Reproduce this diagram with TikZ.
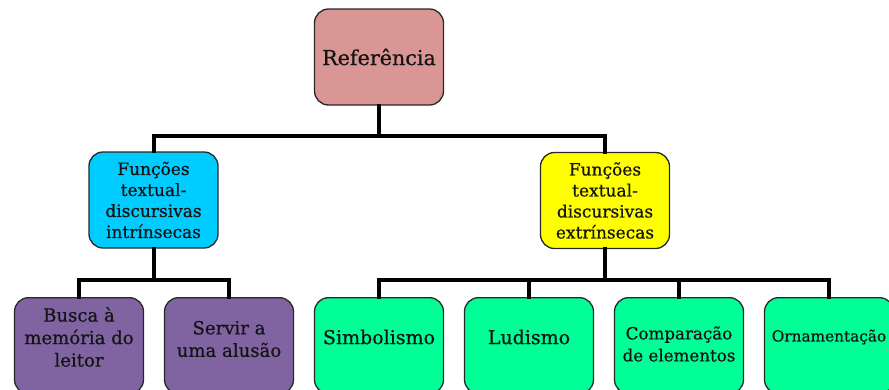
\documentclass[tikz,border=0pt]{standalone}
\usepackage{fontspec}
\setmainfont{DejaVu Serif}
\newfontfamily\boxfont{DejaVu Serif}[FakeBold=0.6]
\definecolor{refpink}{RGB}{217,150,148}
\definecolor{intcyan}{RGB}{0,204,255}
\definecolor{extyellow}{RGB}{255,255,0}
\definecolor{leafpurple}{RGB}{128,100,162}
\definecolor{leafgreen}{RGB}{0,255,150}
\definecolor{boxline}{RGB}{40,40,40}
\begin{document}
\begin{tikzpicture}[x=1pt,y=1pt,yscale=-1,
  box/.style={draw=boxline, line width=1.3pt, rounded corners=14pt, minimum width=129pt, minimum height=96pt, inner sep=0pt},
  boxtext/.style={align=center, text=black!92, inner sep=0pt},
  tree/.style={line width=4pt, line cap=rect}]
        \useasboundingbox (0,0) rectangle (889,389);
        \clip (0,0) rectangle (889,389);

        % junctions of the tree
        \coordinate (jTop) at (379,136);
        \coordinate (jInt) at (153.5,280);
        \coordinate (jExt) at (605,280);

        %Shape: Rounded Rectangle [root]
        \node [box, fill=refpink] (ref) at (379,57) {};
        %Shape: Rounded Rectangle [level 1]
        \node [box, fill=intcyan] (intr) at (153.5,200) {};
        \node [box, fill=extyellow] (extr) at (605,200.5) {};
        %Shape: Rounded Rectangle [level 2]
        \node [box, fill=leafpurple, anchor=north] (busca) at (79,297) {};
        \node [box, fill=leafpurple, anchor=north] (servir) at (229,297) {};
        \node [box, fill=leafgreen, anchor=north] (simb) at (379,297) {};
        \node [box, fill=leafgreen, anchor=north] (lud) at (529,297) {};
        \node [box, fill=leafgreen, anchor=north] (comp) at (679,297) {};
        \node [box, fill=leafgreen, anchor=north] (orn) at (829,297) {};

        % Lines
        \draw [tree] (ref.south) -- (jTop);
        \draw [tree] (intr.north) |- (jTop) -| (extr.north);
        \draw [tree] (intr.south) -- (jInt);
        \draw [tree] (busca.north) |- (jInt) -| (servir.north);
        \draw [tree] (extr.south) -- (jExt);
        \draw [tree] (simb.north) |- (jExt) -| (orn.north);
        \draw [tree] (lud.north) -- (lud.north |- jExt);
        \draw [tree] (comp.north) -- (comp.north |- jExt);

        % Text Node
        \node [boxtext, font=\boxfont\fontsize{20.7}{26}\selectfont] (tRef) at (ref) {Referência};
        % Text Node
        \node [boxtext, font=\boxfont\fontsize{17}{21}\selectfont] (tIntr) at (intr) {Funções\\textual-\\discursivas\\intrínsecas};
        % Text Node
        \node [boxtext, font=\boxfont\fontsize{17}{21}\selectfont] (tExtr) at (extr) {Funções\\textual-\\discursivas\\extrínsecas};
        % Text Node
        \node [boxtext, font=\boxfont\fontsize{18.1}{22.5}\selectfont] (tBusca) at (79,337) {Busca à\\memória do\\leitor};
        % Text Node
        \node [boxtext, font=\boxfont\fontsize{18.1}{22.5}\selectfont] (tServir) at (229,339) {Servir a\\uma alusão};
        % Text Node
        \node [boxtext, font=\boxfont\fontsize{19}{22.5}\selectfont] (tSimb) at (379,337) {Simbolismo};
        % Text Node
        \node [boxtext, font=\boxfont\fontsize{19}{22.5}\selectfont] (tLud) at (529,337) {Ludismo};
        % Text Node
        \node [boxtext, font=\boxfont\fontsize{16.7}{22}\selectfont] (tComp) at (679,344) {Comparação\\de elementos};
        % Text Node
        \node [boxtext, font=\boxfont\fontsize{15.3}{20}\selectfont] (tOrn) at (829,337) {Ornamentação};
\end{tikzpicture}
\end{document}
